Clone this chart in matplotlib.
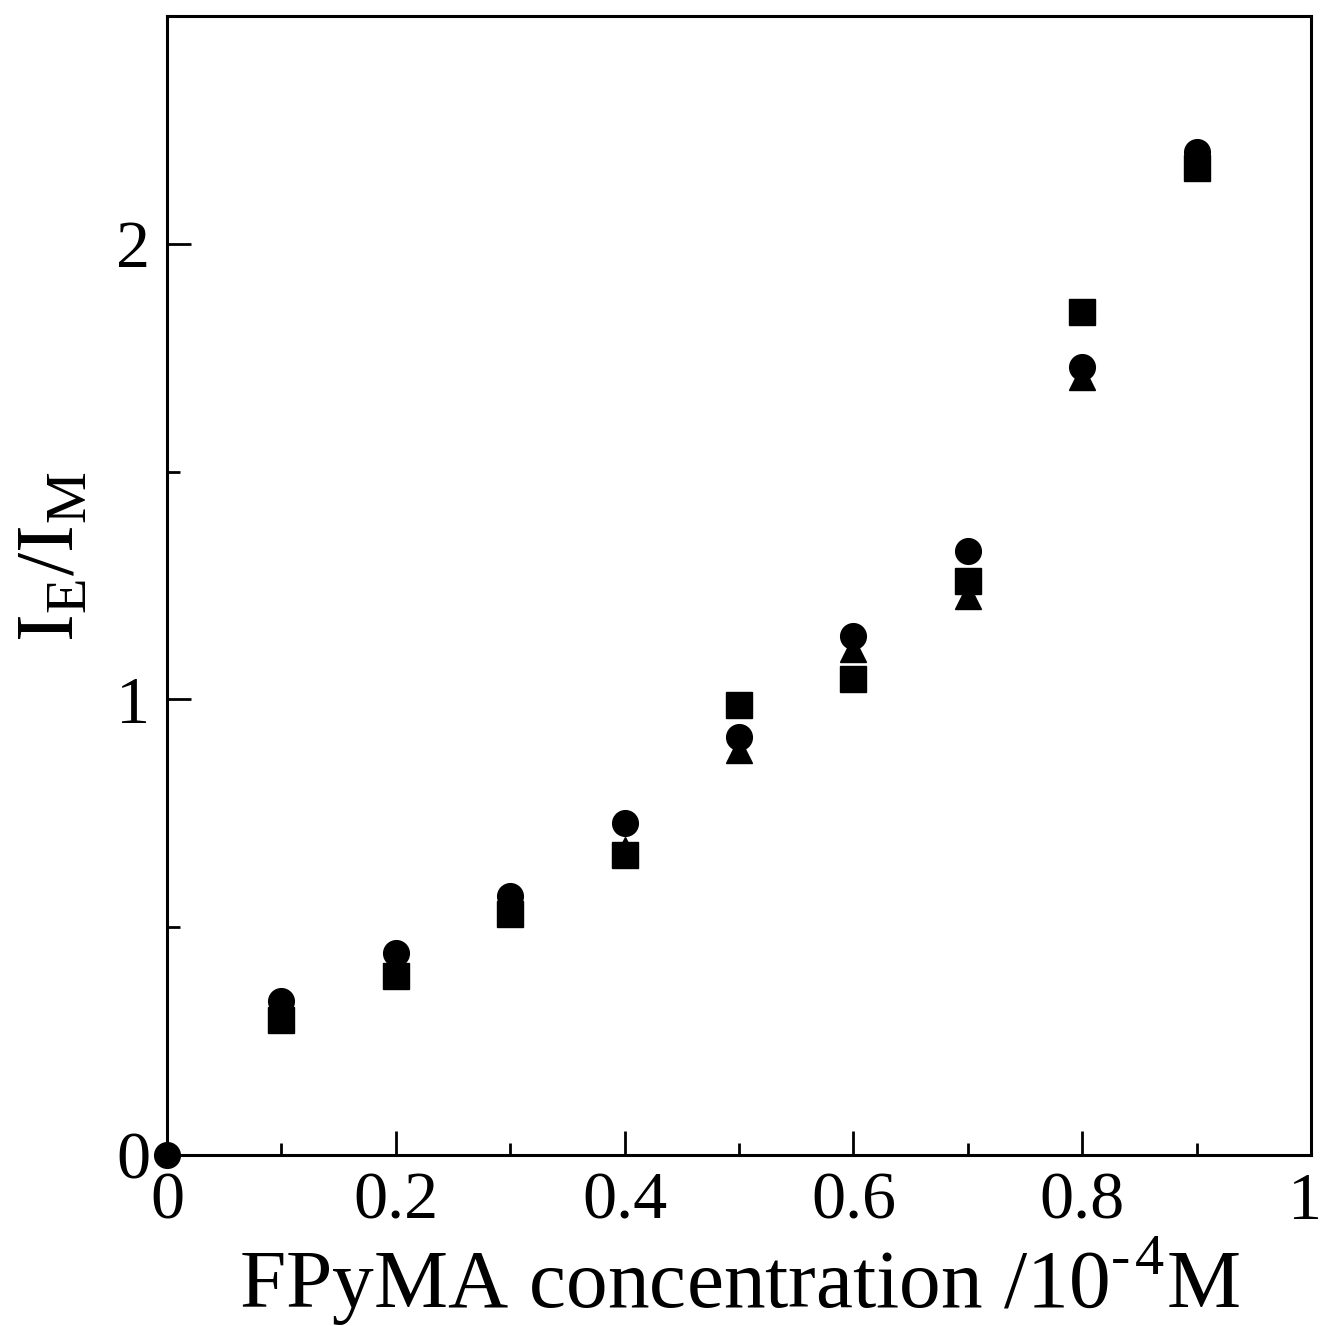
import matplotlib
matplotlib.use("Agg")
import matplotlib.pyplot as plt
from matplotlib.ticker import MultipleLocator
from matplotlib.transforms import ScaledTranslation

x = [0.1, 0.2, 0.3, 0.4, 0.5, 0.6, 0.7, 0.8, 0.9]
y_square = [0.296, 0.392, 0.529, 0.659, 0.988, 1.044, 1.259, 1.851, 2.167]
y_triangle = [0.31, 0.41, 0.545, 0.669, 0.888, 1.110, 1.226, 1.708, 2.18]
y_circle = [0.338, 0.443, 0.568, 0.728, 0.917, 1.138, 1.325, 1.730, 2.202]
origin_x = [0.0]
origin_y = [0.0]
x_tick_labels = ['0', '0.2', '0.4', '0.6', '0.8', '1']
y_tick_labels = ['0', '1', '2']

plt.rcParams['font.family'] = ['Liberation Serif', 'DejaVu Serif']
plt.rcParams['mathtext.fontset'] = 'custom'
plt.rcParams['mathtext.rm'] = 'Liberation Serif'
plt.rcParams['axes.unicode_minus'] = False

fig = plt.figure(figsize=(13.22, 13.26), dpi=100)
ax = fig.add_axes([0.1263, 0.129, 0.8654, 0.859])

ms = 18.5
ax.plot(x, y_triangle, linestyle='none', marker='^', color='black', markersize=ms)
ax.plot(x, y_square, linestyle='none', marker='s', color='black', markersize=ms)
ax.plot(x, y_circle, linestyle='none', marker='o', color='black', markersize=ms)
ax.plot(origin_x, origin_y, linestyle='none', marker='o', color='black', markersize=ms, clip_on=False, zorder=5)

ax.set_xlim(0, 1)
ax.set_ylim(0, 2.5)
ax.xaxis.set_minor_locator(MultipleLocator(0.1))
ax.yaxis.set_minor_locator(MultipleLocator(0.5))
ax.set_xticks([0, 0.2, 0.4, 0.6, 0.8, 1.0])
ax.set_xticklabels(x_tick_labels)
ax.set_yticks([0, 1, 2])
ax.set_yticklabels(y_tick_labels)

ax.tick_params(axis='both', which='major', direction='in', length=17, width=2, labelsize=49)
ax.tick_params(axis='both', which='minor', direction='in', length=9, width=2)
ax.tick_params(top=False, right=False, which='both')
ax.tick_params(axis='x', which='major', pad=12)
ax.tick_params(axis='y', which='major', pad=12)

last = ax.get_xticklabels()[-1]
last.set_transform(last.get_transform() + ScaledTranslation(-6 / 100, 0, fig.dpi_scale_trans))

for s in ax.spines.values():
    s.set_linewidth(2.2)

ax.set_xlabel('FPyMA concentration /10$^{\\mathregular{\u2010\u200a4}}$M', fontsize=60, labelpad=2)
ax.set_ylabel(r'I$_{\mathregular{E}}$/I$_{\mathregular{M}}$', fontsize=60)
ax.yaxis.set_label_coords(-0.066, 0.525)

fig.savefig('out.png', dpi=100)
